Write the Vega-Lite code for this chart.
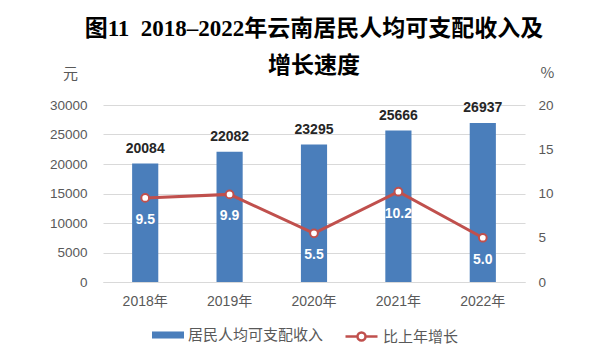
{
  "$schema": "https://vega.github.io/schema/vega-lite/v6.json",
  "width": 422,
  "height": 177,
  "autosize": {"type": "none"},
  "padding": {"left": 103, "top": 105, "right": 75, "bottom": 79},
  "background": "white",
  "title": {
    "text": ["图11\u00a0\u00a02018–2022年云南居民人均可支配收入及", "增长速度"],
    "font": "Liberation Serif, Noto Sans CJK SC",
    "fontSize": 23,
    "fontWeight": "bold",
    "color": "#000000",
    "anchor": "middle",
    "offset": 24,
    "dy": 37,
    "lineHeight": 37
  },
  "data": {
    "values": [
      {"year": "2018年", "income": 20084, "growth": 9.5},
      {"year": "2019年", "income": 22082, "growth": 9.9},
      {"year": "2020年", "income": 23295, "growth": 5.5},
      {"year": "2021年", "income": 25666, "growth": 10.2},
      {"year": "2022年", "income": 26937, "growth": 5.0}
    ]
  },
  "encoding": {
    "x": {
      "field": "year",
      "type": "nominal",
      "sort": null,
      "scale": {"paddingInner": 0.69, "paddingOuter": 0.345},
      "axis": {
        "title": null,
        "labelAngle": 0,
        "labelFontSize": 14,
        "labelColor": "#595959",
        "labelPadding": 12,
        "ticks": false,
        "domain": true,
        "domainColor": "#d9d9d9",
        "grid": false
      }
    }
  },
  "layer": [
    {
      "encoding": {
        "y": {
          "field": "income",
          "type": "quantitative",
          "scale": {"domain": [0, 30000]},
          "axis": {
            "orient": "left",
            "values": [0, 5000, 10000, 15000, 20000, 25000, 30000],
            "format": "d",
            "title": "元",
            "titleAngle": 0,
            "titleX": -33,
            "titleY": -32,
            "titleAlign": "center",
            "titleBaseline": "middle",
            "titleFontSize": 15,
            "titleFontWeight": "normal",
            "titleColor": "#595959",
            "labelFontSize": 13.5,
            "labelColor": "#595959",
            "labelPadding": 16,
            "ticks": false,
            "domain": false,
            "grid": true,
            "gridColor": "#d9d9d9"
          }
        }
      },
      "layer": [
        {
          "mark": {"type": "bar"},
          "encoding": {
            "color": {
              "datum": "居民人均可支配收入",
              "scale": {"range": ["#4a7ebb"]},
              "legend": {
                "orient": "none",
                "legendX": 49,
                "legendY": 214,
                "title": null,
                "padding": 0,
                "symbolType": "M-1,-0.22H1V0.22H-1Z",
                "symbolSize": 1024,
                "symbolStrokeWidth": 0,
                "labelFontSize": 15,
                "labelColor": "#595959",
                "labelOffset": 4
              }
            }
          }
        },
        {
          "mark": {"type": "text", "baseline": "bottom", "dy": -8, "fontSize": 14, "fontWeight": "bold", "color": "#262626"},
          "encoding": {"text": {"field": "income", "type": "quantitative", "format": "d"}}
        }
      ]
    },
    {
      "encoding": {
        "y": {
          "field": "growth",
          "type": "quantitative",
          "scale": {"domain": [0, 20]},
          "axis": {
            "orient": "right",
            "values": [0, 5, 10, 15, 20],
            "title": "%",
            "titleAngle": 0,
            "titleX": 22,
            "titleY": -33,
            "titleAlign": "center",
            "titleBaseline": "middle",
            "titleFontSize": 15,
            "titleFontWeight": "normal",
            "titleColor": "#595959",
            "labelFontSize": 13.5,
            "labelColor": "#595959",
            "labelPadding": 13,
            "ticks": false,
            "domain": false,
            "grid": false
          }
        }
      },
      "layer": [
        {
          "mark": {
            "type": "line",
            "strokeWidth": 3,
            "point": {"filled": false, "fill": "white", "size": 60, "strokeWidth": 2, "stroke": "#c0504d"}
          },
          "encoding": {
            "stroke": {
              "datum": "比上年增长",
              "scale": {"range": ["#c0504d"]},
              "legend": {
                "orient": "none",
                "legendX": 241,
                "legendY": 214,
                "title": null,
                "padding": 0,
                "symbolType": "M-1,0H-0.25M0.25,0H1M0.25,0A0.25,0.25 0 1,1 -0.25,0A0.25,0.25 0 1,1 0.25,0",
                "symbolSize": 1024,
                "symbolStrokeWidth": 2.5,
                "symbolFillColor": "white",
                "labelFontSize": 15,
                "labelColor": "#595959",
                "labelOffset": 4
              }
            }
          }
        },
        {
          "mark": {"type": "text", "baseline": "middle", "dy": 22, "fontSize": 14, "fontWeight": "bold", "color": "white"},
          "encoding": {"text": {"field": "growth", "type": "quantitative", "format": ".1f"}}
        }
      ]
    }
  ],
  "resolve": {"scale": {"y": "independent", "color": "independent", "stroke": "independent"}},
  "config": {
    "view": {"stroke": null},
    "font": "Liberation Sans, Noto Sans CJK SC",
    "axis": {"labelFont": "Liberation Sans, Noto Sans CJK SC", "titleFont": "Noto Sans CJK SC"},
    "legend": {"labelFont": "Noto Sans CJK SC"}
  }
}
